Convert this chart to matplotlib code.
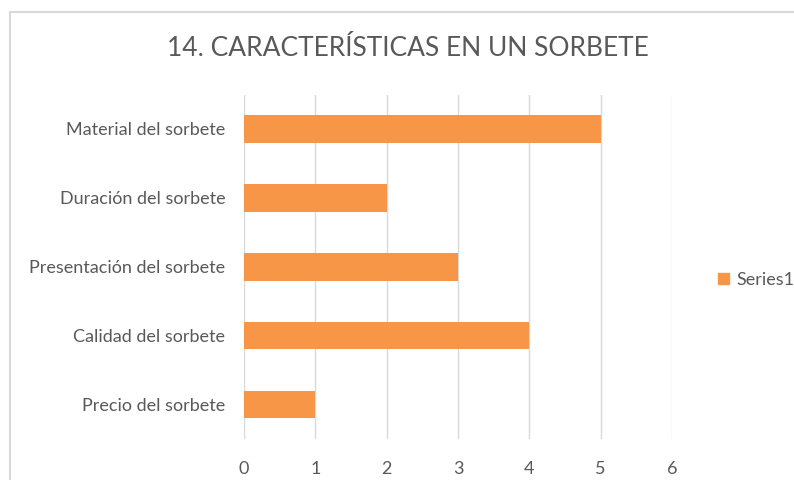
import matplotlib.pyplot as plt
from matplotlib.patches import Rectangle, Patch

categories = ["Precio del sorbete", "Calidad del sorbete", "Presentación del sorbete",
              "Duración del sorbete", "Material del sorbete"]
values = [1, 4, 3, 2, 5]
xticks = [0, 1, 2, 3, 4, 5, 6]

plt.rcParams['font.family'] = ['Lato', 'DejaVu Sans']
text_color = '#595959'
bar_color = '#F79646'

fig = plt.figure(figsize=(7.94, 4.8), dpi=100)

# chart border (cut off on right and bottom like the screenshot)
fig.patches.append(Rectangle((10 / 794, -0.1), 1.2, 1 - 12 / 480 + 0.1,
                             transform=fig.transFigure, fill=False,
                             edgecolor='#d9d9d9', linewidth=1.5))

ax = fig.add_axes([244 / 794, 1 - 439 / 480, (672 - 244) / 794, (439 - 94.5) / 480])
ax.barh(range(len(categories)), values, height=0.4, color=bar_color, zorder=3)

ax.set_xlim(0, 6)
ax.set_ylim(-0.5, len(categories) - 0.5)
ax.set_xticks(xticks)
ax.set_yticks(range(len(categories)))
ax.set_yticklabels(categories)
ax.grid(axis='x', color='#d9d9d9', linewidth=1, zorder=0)
for s in ax.spines.values():
    s.set_visible(False)
ax.tick_params(length=0, labelcolor=text_color, labelsize=13)
ax.tick_params(axis='x', pad=16)
ax.tick_params(axis='y', pad=13.5)

fig.text(0.514, 1 - 48 / 480, "14. CARACTERÍSTICAS EN UN SORBETE", ha='center', va='center',
         fontsize=19, color=text_color)

fig.legend(handles=[Patch(color=bar_color, label='Series1')], loc='center left',
           bbox_to_anchor=(702 / 794, 1 - 280 / 480), frameon=False,
           handlelength=0.6, handleheight=0.6, handletextpad=0.4,
           labelcolor=text_color, fontsize=13)

fig.savefig('out.png', dpi=100)
